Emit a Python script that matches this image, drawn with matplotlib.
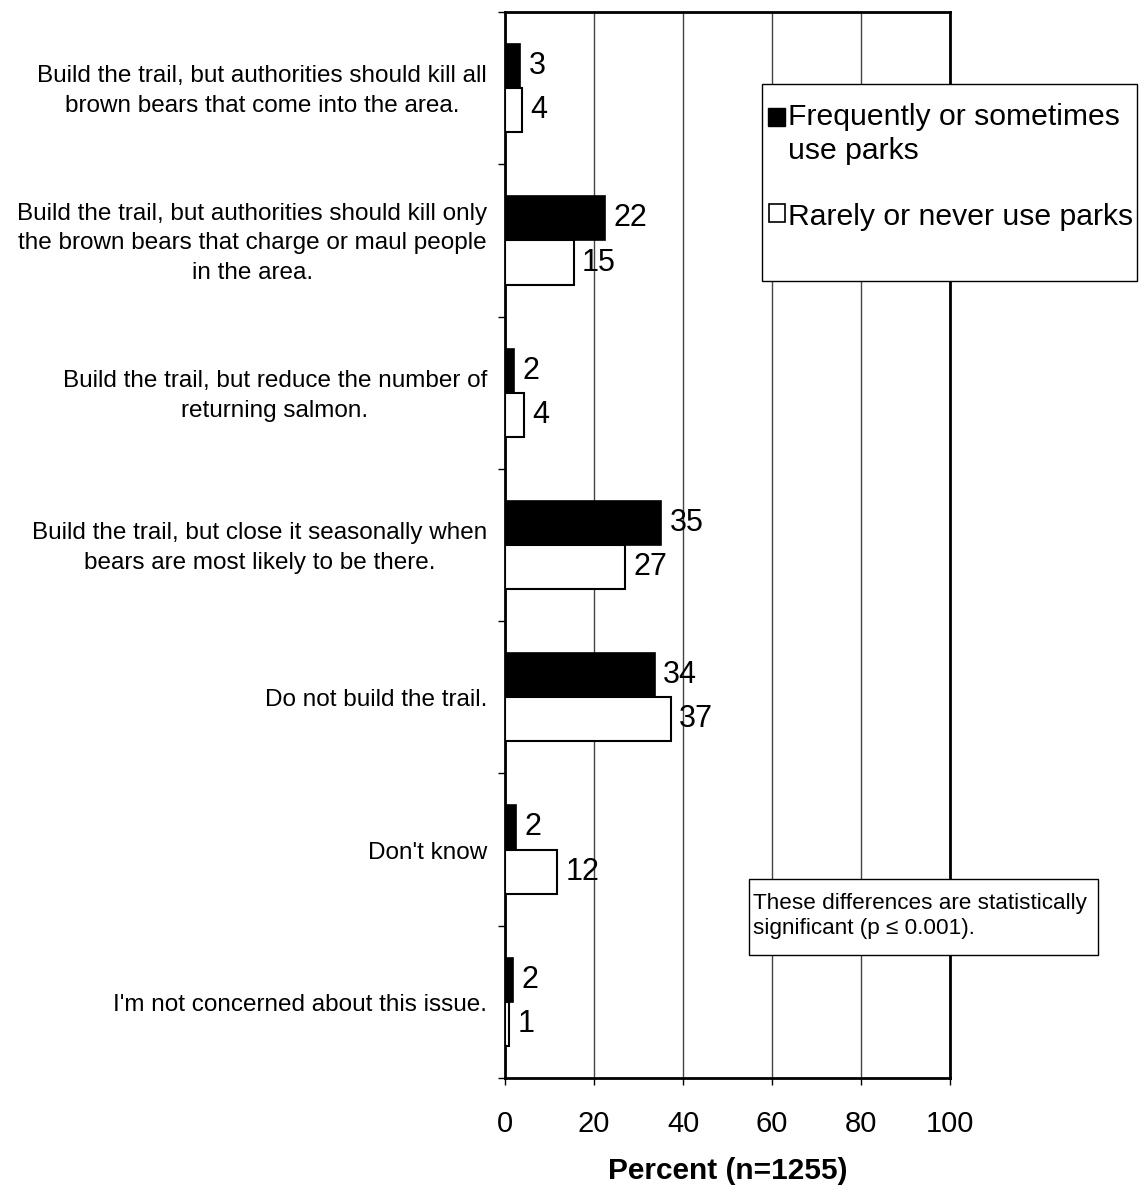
import numpy as np
import matplotlib.pyplot as plt
from matplotlib.patches import Rectangle

plt.rcParams['font.family'] = ['Liberation Sans', 'DejaVu Sans']

# Datos
categorias = [
    "Build the trail, but authorities should kill all\nbrown bears that come into the area.",
    "Build the trail, but authorities should kill only\nthe brown bears that charge or maul people\nin the area.",
    "Build the trail, but reduce the number of\nreturning salmon.",
    "Build the trail, but close it seasonally when\nbears are most likely to be there.",
    "Do not build the trail.",
    "Don't know",
    "I'm not concerned about this issue.",
]
frecuente = [3.4, 22.4, 2.0, 35.1, 33.7, 2.4, 1.8]
raro = [3.8, 15.4, 4.3, 27.0, 37.3, 11.7, 0.9]
etiquetas_frec = [3, 22, 2, 35, 34, 2, 2]
etiquetas_raro = [4, 15, 4, 27, 37, 12, 1]
serie_frec = "Frequently or sometimes\nuse parks"
serie_raro = "Rarely or never use parks"
xticks = [0, 20, 40, 60, 80, 100]

W, H = 1141, 1188
fig = plt.figure(figsize=(W / 100, H / 100), dpi=100)
ax = fig.add_axes([505 / W, 1 - 1078 / H, 445 / W, 1066 / H])

y = np.arange(len(categorias))
h = 0.29
ax.barh(y - h / 2, frecuente, height=h, color='black', edgecolor='black', linewidth=1.2, zorder=3)
ax.barh(y + h / 2, raro, height=h, color='white', edgecolor='black', linewidth=1.5, zorder=3)

for i in range(len(categorias)):
    ax.annotate(str(etiquetas_frec[i]), (frecuente[i], y[i] - h / 2), xytext=(6, 0),
                textcoords='offset points', va='center', ha='left', fontsize=22, zorder=4)
    ax.annotate(str(etiquetas_raro[i]), (raro[i], y[i] + h / 2), xytext=(6, 0),
                textcoords='offset points', va='center', ha='left', fontsize=22, zorder=4)
    ax.text(-4, y[i] + 0.02, categorias[i], ha='right', va='center', multialignment='center',
            fontsize=17.5, linespacing=1.45, clip_on=False)

ax.set_xlim(0, 100)
ax.set_ylim(len(categorias) - 0.5, -0.5)
ax.set_xticks(xticks)
ax.set_xticklabels([str(t) for t in xticks], fontsize=21)
ax.set_yticks(np.arange(len(categorias) + 1) - 0.5)
ax.set_yticklabels([])
ax.tick_params(axis='x', direction='out', length=5, width=1, pad=18)
ax.tick_params(axis='y', direction='out', length=5, width=1)
ax.xaxis.grid(True, color='#444444', linewidth=1)
ax.set_axisbelow(True)
for s in ax.spines.values():
    s.set_linewidth(2)
ax.set_xlabel('Percent (n=1255)', fontsize=21.5, fontweight='bold', labelpad=14)

# Leyenda
fig.patches.append(Rectangle((762 / W, 1 - 281 / H), 375 / W, 197 / H, transform=fig.transFigure,
                             facecolor='white', edgecolor='black', linewidth=1, zorder=1))
fig.patches.append(Rectangle((768 / W, 1 - 126 / H), 17 / W, 18 / H, transform=fig.transFigure,
                             facecolor='black', edgecolor='black', linewidth=1, zorder=2))
fig.patches.append(Rectangle((769 / W, 1 - 222 / H), 16 / W, 18 / H, transform=fig.transFigure,
                             facecolor='white', edgecolor='black', linewidth=1.2, zorder=2))
for k, linea in enumerate(serie_frec.split('\n')):
    fig.text(788 / W, 1 - (125 + 34 * k) / H, linea, fontsize=21.7, ha='left', va='baseline')
fig.text(788 / W, 1 - 225 / H, serie_raro, fontsize=21.7, ha='left', va='baseline')

# Nota
fig.patches.append(Rectangle((749 / W, 1 - 955 / H), 349 / W, 76 / H, transform=fig.transFigure,
                             facecolor='white', edgecolor='black', linewidth=1, zorder=1))
fig.text(753 / W, 1 - 916 / H, "These differences are statistically\nsignificant (p \u2264 0.001).",
         fontsize=16.2, ha='left', va='center', linespacing=1.3)

fig.savefig('out.png', dpi=100)
